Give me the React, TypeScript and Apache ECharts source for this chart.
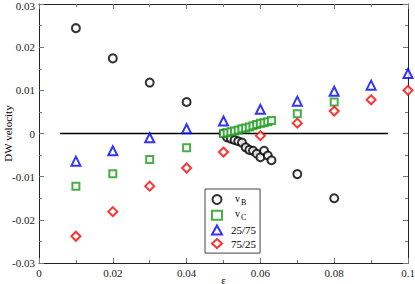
import React, { useEffect, useRef } from "react";
import * as echarts from "echarts";

const xTickLabels = ["0", "0.02", "0.04", "0.06", "0.08", "0.1"];
const yTickLabels = ["-0.03", "-0.02", "-0.01", "0", "0.01", "0.02", "0.03"];

const vB: [number, number][] = [
  [0.01, 0.0244], [0.02, 0.0174], [0.03, 0.0118], [0.04, 0.0073],
  [0.05, 0.0000], [0.051, -0.0009], [0.052, -0.0012], [0.053, -0.0015],
  [0.054, -0.0018], [0.055, -0.0021], [0.056, -0.0032], [0.057, -0.0038],
  [0.058, -0.0040], [0.059, -0.0047], [0.06, -0.0055], [0.061, -0.0040],
  [0.062, -0.0051], [0.063, -0.0062],
  [0.07, -0.0094], [0.08, -0.0150],
];
const vC: [number, number][] = [
  [0.01, -0.0122], [0.02, -0.0093], [0.03, -0.0060], [0.04, -0.0033],
  [0.05, 0.0000], [0.051, 0.0002], [0.052, 0.0004], [0.053, 0.0006],
  [0.054, 0.0008], [0.055, 0.0011], [0.056, 0.0013], [0.057, 0.0015],
  [0.058, 0.0018], [0.059, 0.0021], [0.06, 0.0024], [0.061, 0.0025],
  [0.062, 0.0027], [0.063, 0.0030],
  [0.07, 0.0046], [0.08, 0.0073],
];
const s2575: [number, number][] = [
  [0.01, -0.0064], [0.02, -0.0040], [0.03, -0.0010], [0.04, 0.0011],
  [0.05, 0.0029], [0.06, 0.0056], [0.07, 0.0075], [0.08, 0.0098],
  [0.09, 0.0112], [0.1, 0.0139],
];
const s7525: [number, number][] = [
  [0.01, -0.0238], [0.02, -0.0181], [0.03, -0.0122], [0.04, -0.0080],
  [0.05, -0.0043], [0.06, -0.0005], [0.07, 0.0024], [0.08, 0.0052],
  [0.09, 0.0078], [0.1, 0.0100],
];
const zeroLine: [number, number][] = [[0.0057, 0], [0.0946, 0]];

const FONT = "Liberation Serif";

export default function App() {
  const ref = useRef<HTMLDivElement>(null);
  useEffect(() => {
    document.body.style.margin = "0";
    const chart = echarts.init(ref.current!, null, { renderer: "svg" });
    const axisCommon = {
      axisLine: { show: true, onZero: false, lineStyle: { color: "#222", width: 1 } },
      axisTick: { show: true, inside: true, length: 5, lineStyle: { color: "#777" } },
      minorTick: { show: true, splitNumber: 2, length: 3, lineStyle: { color: "#777" } },
      splitLine: { show: false },
    };
    const scatterBase = {
      type: "scatter",
      z: 3,
    };
    chart.setOption({
      animation: false,
      backgroundColor: "#fff",
      grid: { left: 39, right: 7, top: 4, bottom: 21, containLabel: false, outerBoundsMode: "none" },
      xAxis: [
        {
          type: "value", min: 0, max: 0.1, interval: 0.02, position: "bottom",
          ...axisCommon,
          name: "ε", nameLocation: "middle", nameGap: 11, nameMoveOverlap: false,
          nameTextStyle: { fontFamily: FONT, fontSize: 11, color: "#000" },
          axisLabel: {
            fontFamily: FONT, fontSize: 11, color: "#222", margin: 4,
            formatter: (_v: number, i: number) => xTickLabels[i] ?? "",
          },
        },
        {
          type: "value", min: 0, max: 0.1, interval: 0.02, position: "top",
          ...axisCommon, axisLabel: { show: false },
        },
      ],
      yAxis: [
        {
          type: "value", min: -0.03, max: 0.03, interval: 0.01, position: "left",
          ...axisCommon,
          name: "DW velocity", nameLocation: "middle", nameGap: 26, nameMoveOverlap: false,
          nameTextStyle: { fontFamily: FONT, fontSize: 11, color: "#000" },
          axisLabel: {
            fontFamily: FONT, fontSize: 11, color: "#222", margin: 4,
            formatter: (_v: number, i: number) =>
              i === yTickLabels.length - 1 ? `{t|${yTickLabels[i]}}` : (yTickLabels[i] ?? ""),
            rich: {
              t: { fontFamily: FONT, fontSize: 11, color: "#222", padding: [4, 0, 0, 0] },
            },
          },
        },
        {
          type: "value", min: -0.03, max: 0.03, interval: 0.01, position: "right",
          ...axisCommon, axisLabel: { show: false },
        },
      ],
      legend: {
        data: ["vB", "vC", "25/75", "75/25"],
        orient: "vertical",
        left: 205,
        top: 189,
        padding: [4, 4, 4, 6],
        itemWidth: 10,
        itemHeight: 9,
        itemGap: 2.7,
        borderColor: "#444",
        borderWidth: 1,
        backgroundColor: "#fff",
        textStyle: {
          fontFamily: FONT, fontSize: 11, color: "#000", padding: [0, 0, 0, 4],
          rich: {
            m: { fontFamily: FONT, fontSize: 10, color: "#000", verticalAlign: "bottom", padding: [0, 0, 3, 4] },
            s: { fontFamily: FONT, fontSize: 8, color: "#000", verticalAlign: "bottom", padding: [0, 0, 0, 1] },
          },
        },
        formatter: (name: string) => {
          if (name === "vB") return "{m|v}{s|B}";
          if (name === "vC") return "{m|v}{s|C}";
          return name;
        },
      },
      series: [
        {
          name: "zero", type: "line", data: zeroLine, symbol: "none", z: 2,
          lineStyle: { color: "#000", width: 1.5 },
        },
        {
          ...scatterBase, name: "vB", data: vB, symbol: "emptyCircle", symbolSize: 8,
          itemStyle: { color: "#000", borderWidth: 1.8 },
        },
        {
          ...scatterBase, name: "vC", data: vC, symbol: "emptyRect", symbolSize: 7,
          itemStyle: { color: "#1a9a1a", borderWidth: 1.8 },
        },
        {
          ...scatterBase, name: "25/75", data: s2575, symbol: "emptyTriangle", symbolSize: 9,
          itemStyle: { color: "#0000ff", borderWidth: 1.6 },
        },
        {
          ...scatterBase, name: "75/25", data: s7525, symbol: "emptyDiamond", symbolSize: 9,
          itemStyle: { color: "#ff0000", borderWidth: 1.8 },
        },
      ],
    });
    return () => chart.dispose();
  }, []);
  return <div ref={ref} style={{ width: 415, height: 284 }} />;
}
